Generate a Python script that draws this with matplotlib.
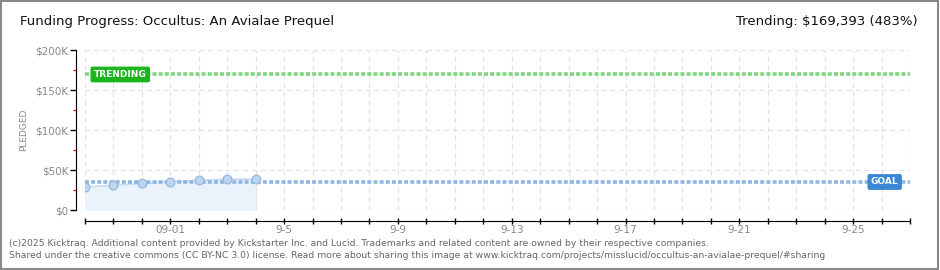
import numpy as np
import pandas as pd
import matplotlib.pyplot as plt
import matplotlib.dates as mdates
from matplotlib.ticker import FuncFormatter, MultipleLocator

# data
dates = pd.date_range('2025-08-29', periods=7, freq='D')
pledged = [28800, 30800, 33200, 35500, 37000, 38500, 38600]
goal = 35000
trending = 169393
x_start = pd.Timestamp('2025-08-29')
x_end = pd.Timestamp('2025-09-27')
tick_labels = {pd.Timestamp('2025-09-01'): '09-01', pd.Timestamp('2025-09-05'): '9-5',
               pd.Timestamp('2025-09-09'): '9-9', pd.Timestamp('2025-09-13'): '9-13',
               pd.Timestamp('2025-09-17'): '9-17', pd.Timestamp('2025-09-21'): '9-21',
               pd.Timestamp('2025-09-25'): '9-25'}

fig = plt.figure(figsize=(9.4, 2.7), dpi=100)
fig.patch.set_facecolor('white')
ax = fig.add_axes([85/940, 60/270, 825/940, 160/270])

# border round the figure
fig.patches.append(plt.Rectangle((0.001, 0.002), 0.997, 0.995, transform=fig.transFigure,
                                 fill=False, edgecolor='#888888', linewidth=1.5))

#%% series
ax.fill_between(dates, pledged, 0, color='#eaf2fc', zorder=2)
ax.plot([dates[-1], dates[-1]], [0, pledged[-1]], color='#dde8f5', lw=0.8, zorder=2)
ax.plot(dates, pledged, color='#c5dbf3', lw=1.2, zorder=3)
ax.scatter(dates, pledged, s=40, color='#bcd6f2', edgecolor='#92b4dc', linewidth=0.8, zorder=5)

#%% goal / trending lines
ax.axhline(goal, color='#8fb6e3', lw=2.6, dashes=(1.1, 0.6), zorder=4)
ax.axhline(trending, color='#7fd67f', lw=2.6, dashes=(1.1, 0.6), zorder=4)

ax.text(pd.Timestamp('2025-08-29 07:30'), trending, 'TRENDING', color='white', fontsize=6.5,
        fontweight='bold', va='center', ha='left', zorder=6,
        bbox=dict(boxstyle='round,pad=0.3,rounding_size=0.15', fc='#1db51d', ec='#1db51d'))
ax.text(pd.Timestamp('2025-09-25 15:00'), goal, 'GOAL', color='white', fontsize=6.5,
        fontweight='bold', va='center', ha='left', zorder=6,
        bbox=dict(boxstyle='round,pad=0.3,rounding_size=0.15', fc='#3a87d6', ec='#3a87d6'))

#%% axes
ax.set_xlim(x_start, x_end)
ax.set_ylim(0, 200000)
ax.xaxis.set_major_locator(mdates.DayLocator())
ax.xaxis.set_major_formatter(FuncFormatter(
    lambda v, p: tick_labels.get(pd.Timestamp(mdates.num2date(v).replace(tzinfo=None)).normalize(), '')))
ax.yaxis.set_major_locator(MultipleLocator(50000))
ax.yaxis.set_minor_locator(MultipleLocator(25000))
ax.yaxis.set_major_formatter(FuncFormatter(lambda v, p: '$0' if v == 0 else f'${int(v/1000)}K'))

ax.grid(True, which='major', color='#e2e2e2', linestyle=(0, (4, 3)), lw=0.9)
ax.set_axisbelow(True)
for s in ['top', 'right']:
    ax.spines[s].set_visible(False)
ax.spines['left'].set_position(('outward', 6.5))
ax.spines['bottom'].set_position(('outward', 8))
ax.spines['left'].set_bounds(0, 200000)
ax.tick_params(axis='y', which='major', length=4, width=1, color='black', labelsize=7.5,
               labelcolor='#888888', pad=1.5)
ax.tick_params(axis='y', which='minor', length=2.5, width=1, color='red')
ax.tick_params(axis='x', which='major', direction='inout', length=5, width=1, labelsize=7.5,
               labelcolor='#888888', pad=0.5)
ax.set_ylabel('PLEDGED', fontsize=6.5, color='#888888', labelpad=5)

#%% texts
fig.text(20/940, 1 - 22/270, 'Funding Progress: Occultus: An Avialae Prequel', fontsize=9.5,
         va='center', ha='left', color='#111111')
fig.text(918/940, 1 - 22/270, 'Trending: $169,393 (483%)', fontsize=9.5, va='center',
         ha='right', color='#111111')
fig.text(9/940, 1 - 243/270, '(c)2025 Kicktraq. Additional content provided by Kickstarter Inc. and Lucid. '
         'Trademarks and related content are owned by their respective companies.',
         fontsize=6.65, color='#666666', va='center')
fig.text(9/940, 1 - 256/270, 'Shared under the creative commons (CC BY-NC 3.0) license. Read more about '
         'sharing this image at www.kicktraq.com/projects/misslucid/occultus-an-avialae-prequel/#sharing',
         fontsize=6.65, color='#666666', va='center')

plt.savefig('out.png', dpi=100)
